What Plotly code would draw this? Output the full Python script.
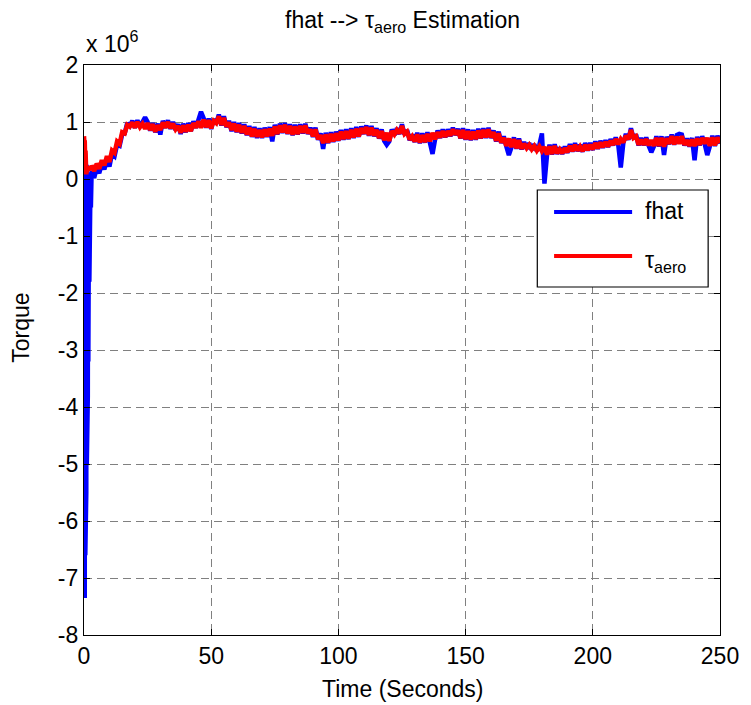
import numpy as np
import plotly.graph_objects as go

# ---- data (torque in units of 1e6) ----
# fast start-up window, 0.0 .. 2.9 s every 0.1 s
time_start = np.round(np.arange(0.0, 3.0, 0.1), 1)
fhat_start = [0.65, -1.5, 0.55, -7.35, 0.45, -6.6, 0.35, -6.0, 0.3, -5.5,
              0.25, -5.0, 0.2, -4.4, 0.15, -3.8, 0.12, -3.2, 0.1, -2.5,
              0.08, -1.8, 0.1, -1.2, 0.05, -0.8, 0.1, -0.5, 0.08, -0.2]
tau_start = [0.75, 0.72, 0.6, 0.68, 0.45, 0.3, 0.5, 0.2, 0.12, 0.08,
             0.15, 0.12, 0.2, 0.15, 0.22, 0.14, 0.2, 0.16, 0.22, 0.18,
             0.21, 0.15, 0.2, 0.17, 0.22, 0.16, 0.2, 0.18, 0.22, 0.17]

# remaining run, 3 .. 250 s every 1 s
time_run = np.arange(3, 251, 1)
fhat_run = [
    0.14, 0.02, 0.2, 0.1, 0.27, 0.17, 0.33,
    0.22, 0.44, 0.4, 0.6, 0.58, 0.78, 0.8, 0.98, 0.93, 1.02,
    0.9, 1.03, 0.92, 1.0, 1.08, 1.0, 0.85, 0.98, 0.82, 0.97,
    0.78, 1.02, 0.9, 1.03, 0.88, 1.0, 0.86, 0.96, 0.79, 0.97,
    0.82, 0.98, 0.84, 1.01, 0.9, 1.04, 1.18, 1.07, 0.9, 1.06,
    0.88, 1.05, 0.98, 1.13, 0.94, 1.1, 0.91, 1.02, 0.84, 1.0,
    0.82, 0.98, 0.8, 0.96, 0.77, 0.93, 0.74, 0.91, 0.72, 0.89,
    0.72, 0.9, 0.74, 0.91, 0.66, 0.95, 0.78, 0.97, 0.81, 0.98,
    0.79, 0.96, 0.77, 0.95, 0.78, 0.96, 0.8, 0.97, 0.79, 0.9,
    0.74, 0.9, 0.69, 0.8, 0.53, 0.81, 0.63, 0.82, 0.65, 0.83,
    0.67, 0.86, 0.69, 0.87, 0.7, 0.89, 0.72, 0.91, 0.74, 0.92,
    0.79, 0.94, 0.76, 0.93, 0.75, 0.89, 0.71, 0.87, 0.67, 0.6,
    0.66, 0.87, 0.77, 0.89, 0.79, 0.96, 0.78, 0.86, 0.68, 0.78,
    0.65, 0.81, 0.63, 0.8, 0.64, 0.82, 0.65, 0.44, 0.69, 0.85,
    0.72, 0.87, 0.73, 0.87, 0.75, 0.9, 0.77, 0.88, 0.71, 0.89,
    0.69, 0.87, 0.68, 0.86, 0.69, 0.88, 0.71, 0.89, 0.72, 0.9,
    0.72, 0.85, 0.66, 0.83, 0.63, 0.75, 0.57, 0.42, 0.55, 0.73,
    0.53, 0.71, 0.52, 0.65, 0.53, 0.63, 0.51, 0.61, 0.49, 0.6,
    0.8, -0.08, 0.42, 0.6, 0.43, 0.61, 0.44, 0.55, 0.44, 0.57,
    0.46, 0.61, 0.48, 0.63, 0.49, 0.6, 0.48, 0.63, 0.5, 0.63,
    0.51, 0.66, 0.53, 0.67, 0.55, 0.68, 0.56, 0.7, 0.59, 0.73,
    0.6, 0.2, 0.63, 0.79, 0.69, 0.89, 0.71, 0.78, 0.59, 0.72,
    0.59, 0.73, 0.58, 0.47, 0.57, 0.75, 0.57, 0.75, 0.42, 0.74,
    0.61, 0.78, 0.6, 0.77, 0.79, 0.78, 0.59, 0.71, 0.57, 0.72,
    0.33, 0.74, 0.59, 0.75, 0.61, 0.42, 0.57, 0.76, 0.58, 0.76,
    0.62,
]
tau_run = [
    0.24, 0.14, 0.27, 0.18, 0.33, 0.24, 0.4,
    0.3, 0.5, 0.46, 0.66, 0.62, 0.82, 0.8, 0.95, 0.92, 0.99,
    0.9, 1.0, 0.91, 0.97, 0.88, 0.98, 0.86, 0.96, 0.83, 0.94,
    0.86, 0.99, 0.9, 1.0, 0.89, 0.97, 0.87, 0.93, 0.81, 0.94,
    0.83, 0.95, 0.84, 0.98, 0.9, 1.01, 0.9, 1.04, 0.91, 1.03,
    0.89, 1.02, 0.98, 1.1, 0.95, 1.07, 0.92, 0.99, 0.86, 0.97,
    0.83, 0.95, 0.81, 0.93, 0.78, 0.9, 0.75, 0.88, 0.74, 0.86,
    0.73, 0.87, 0.75, 0.88, 0.76, 0.92, 0.79, 0.94, 0.82, 0.95,
    0.8, 0.93, 0.78, 0.92, 0.79, 0.93, 0.81, 0.94, 0.8, 0.87,
    0.75, 0.87, 0.7, 0.77, 0.63, 0.78, 0.64, 0.79, 0.66, 0.8,
    0.68, 0.83, 0.7, 0.84, 0.71, 0.86, 0.73, 0.88, 0.75, 0.89,
    0.8, 0.91, 0.77, 0.9, 0.76, 0.86, 0.72, 0.84, 0.68, 0.81,
    0.67, 0.84, 0.78, 0.86, 0.8, 0.93, 0.79, 0.83, 0.69, 0.75,
    0.66, 0.78, 0.64, 0.77, 0.65, 0.79, 0.66, 0.81, 0.7, 0.82,
    0.73, 0.84, 0.74, 0.84, 0.76, 0.87, 0.78, 0.85, 0.72, 0.86,
    0.7, 0.84, 0.69, 0.83, 0.7, 0.85, 0.72, 0.86, 0.73, 0.87,
    0.73, 0.82, 0.67, 0.8, 0.64, 0.72, 0.58, 0.71, 0.56, 0.7,
    0.54, 0.68, 0.53, 0.62, 0.54, 0.6, 0.52, 0.58, 0.5, 0.57,
    0.49, 0.56, 0.43, 0.57, 0.44, 0.58, 0.45, 0.52, 0.45, 0.54,
    0.47, 0.58, 0.49, 0.6, 0.5, 0.57, 0.49, 0.6, 0.51, 0.6,
    0.52, 0.63, 0.54, 0.64, 0.56, 0.65, 0.57, 0.67, 0.6, 0.7,
    0.61, 0.7, 0.64, 0.76, 0.7, 0.86, 0.72, 0.75, 0.6, 0.69,
    0.6, 0.7, 0.59, 0.68, 0.58, 0.72, 0.58, 0.72, 0.57, 0.71,
    0.62, 0.75, 0.61, 0.74, 0.62, 0.75, 0.6, 0.68, 0.58, 0.69,
    0.58, 0.71, 0.6, 0.72, 0.62, 0.72, 0.58, 0.73, 0.59, 0.73,
    0.63,
]

x_ticks = [0, 50, 100, 150, 200, 250]
y_ticks = [-8, -7, -6, -5, -4, -3, -2, -1, 0, 1, 2]

time = np.concatenate([time_start, time_run])
fhat = np.concatenate([fhat_start, fhat_run])
tau_aero = np.concatenate([tau_start, tau_run])

# ---- page geometry (pixels) ----
W, H = 751, 705
L, R, T, B = 84, 728, 65, 635
FONT = "Liberation Sans, Arial, sans-serif"
FS = 23
LW = 4.5


def fx(p):
    return (p - L) / (R - L)


def fy(p):
    return (B - p) / (B - T)


fig = go.Figure()
fig.add_trace(go.Scatter(x=time, y=fhat, mode="lines", name="fhat",
                         line=dict(color="#0000FF", width=LW)))
fig.add_trace(go.Scatter(x=time, y=tau_aero, mode="lines", name="τaero",
                         line=dict(color="#FF0000", width=LW)))

axis_common = dict(
    showline=True, linecolor="black", linewidth=1.2, mirror="ticks",
    ticks="inside", ticklen=6, tickcolor="black", tickwidth=1,
    showgrid=True, gridcolor="#808080", gridwidth=1, griddash="8px,5px",
    zeroline=False, tickfont=dict(family=FONT, size=FS, color="black"),
)

fig.update_xaxes(range=[0, 250], tickvals=x_ticks,
                 ticktext=[str(v) for v in x_ticks], **axis_common)
fig.update_yaxes(range=[-8, 2], tickvals=y_ticks,
                 ticktext=[str(v) for v in y_ticks], **axis_common)

# legend box drawn inside the axes
leg = dict(x0=543, x1=716, y0=190, y1=287)
shapes = [
    dict(type="rect", xref="paper", yref="paper",
         x0=fx(leg["x0"]), x1=fx(leg["x1"]), y0=fy(leg["y1"]), y1=fy(leg["y0"]),
         line=dict(color="black", width=1.2), fillcolor="white", layer="above"),
    dict(type="line", xref="paper", yref="paper",
         x0=fx(560), x1=fx(639), y0=fy(212), y1=fy(212),
         line=dict(color="#0000FF", width=4), layer="above"),
    dict(type="line", xref="paper", yref="paper",
         x0=fx(560), x1=fx(639), y0=fy(256), y1=fy(256),
         line=dict(color="#FF0000", width=4), layer="above"),
]

txt = dict(family=FONT, size=FS, color="black")
annotations = [
    dict(text="fhat --> τ<sub>aero</sub> Estimation", xref="paper", yref="paper",
         x=fx(406), y=fy(22), xanchor="center", yanchor="middle",
         showarrow=False, font=txt),
    dict(text="x 10<sup>6</sup>", xref="paper", yref="paper",
         x=fx(84), y=fy(42), xanchor="left", yanchor="middle",
         showarrow=False, font=txt),
    dict(text="Torque", xref="paper", yref="paper",
         x=fx(20), y=fy(328), xanchor="center", yanchor="middle",
         textangle=-90, showarrow=False, font=txt),
    dict(text="Time (Seconds)", xref="paper", yref="paper",
         x=fx(406), y=fy(689), xanchor="center", yanchor="middle",
         showarrow=False, font=txt),
    dict(text="fhat", xref="paper", yref="paper",
         x=fx(650), y=fy(211), xanchor="left", yanchor="middle",
         showarrow=False, font=txt),
    dict(text="τ<sub>aero</sub>", xref="paper", yref="paper",
         x=fx(650), y=fy(261), xanchor="left", yanchor="middle",
         showarrow=False, font=txt),
]

fig.update_layout(
    width=W, height=H,
    margin=dict(l=L, r=W - R, t=T, b=H - B, pad=0),
    paper_bgcolor="white", plot_bgcolor="white",
    showlegend=False,
    shapes=shapes, annotations=annotations,
    font=dict(family=FONT, size=FS, color="black"),
)

fig.write_html("out.html")
